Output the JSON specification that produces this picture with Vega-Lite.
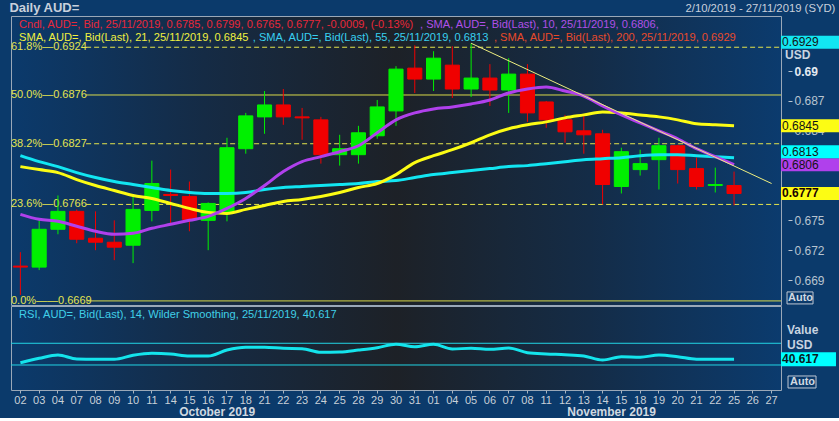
{
  "$schema": "https://vega.github.io/schema/vega-lite/v6.json",
  "background": "#0b3a6b",
  "padding": {"left": 8, "top": 0, "right": 0, "bottom": 0},
  "config": {"font": "Liberation Sans"},
  "bounds": "flush",
  "spacing": 1,
  "datasets": {
    "candles": [
      {"date":"2019-10-02","open":0.6704,"high":0.6718,"low":0.6675,"close":0.6703},
      {"date":"2019-10-03","open":0.6703,"high":0.6752,"low":0.6700,"close":0.6741},
      {"date":"2019-10-04","open":0.6741,"high":0.6775,"low":0.6736,"close":0.6759},
      {"date":"2019-10-07","open":0.6759,"high":0.6761,"low":0.6727,"close":0.6731},
      {"date":"2019-10-08","open":0.6732,"high":0.6759,"low":0.6720,"close":0.6728},
      {"date":"2019-10-09","open":0.6728,"high":0.6750,"low":0.6710,"close":0.6723},
      {"date":"2019-10-10","open":0.6725,"high":0.6774,"low":0.6707,"close":0.6761},
      {"date":"2019-10-11","open":0.6760,"high":0.6810,"low":0.6749,"close":0.6787},
      {"date":"2019-10-14","open":0.6776,"high":0.6801,"low":0.6747,"close":0.6775},
      {"date":"2019-10-15","open":0.6774,"high":0.6789,"low":0.6739,"close":0.6751},
      {"date":"2019-10-16","open":0.6750,"high":0.6768,"low":0.6720,"close":0.6767},
      {"date":"2019-10-17","open":0.6759,"high":0.6833,"low":0.6749,"close":0.6823},
      {"date":"2019-10-18","open":0.6822,"high":0.6858,"low":0.6817,"close":0.6855},
      {"date":"2019-10-21","open":0.6854,"high":0.6880,"low":0.6837,"close":0.6866},
      {"date":"2019-10-22","open":0.6866,"high":0.6882,"low":0.6846,"close":0.6854},
      {"date":"2019-10-23","open":0.6854,"high":0.6863,"low":0.6831,"close":0.6853},
      {"date":"2019-10-24","open":0.6851,"high":0.6854,"low":0.6807,"close":0.6816},
      {"date":"2019-10-25","open":0.6816,"high":0.6836,"low":0.6805,"close":0.6822},
      {"date":"2019-10-28","open":0.6816,"high":0.6845,"low":0.6807,"close":0.6838},
      {"date":"2019-10-29","open":0.6835,"high":0.6871,"low":0.6832,"close":0.6864},
      {"date":"2019-10-30","open":0.6860,"high":0.6905,"low":0.6845,"close":0.6902},
      {"date":"2019-10-31","open":0.6903,"high":0.6926,"low":0.6878,"close":0.6892},
      {"date":"2019-11-01","open":0.6892,"high":0.6920,"low":0.6880,"close":0.6913},
      {"date":"2019-11-04","open":0.6906,"high":0.6925,"low":0.6873,"close":0.6882},
      {"date":"2019-11-05","open":0.6882,"high":0.6928,"low":0.6874,"close":0.6893},
      {"date":"2019-11-06","open":0.6893,"high":0.6907,"low":0.6865,"close":0.6881},
      {"date":"2019-11-07","open":0.6881,"high":0.6913,"low":0.6858,"close":0.6897},
      {"date":"2019-11-08","open":0.6897,"high":0.6907,"low":0.6849,"close":0.6858},
      {"date":"2019-11-11","open":0.6869,"high":0.6870,"low":0.6843,"close":0.6851},
      {"date":"2019-11-12","open":0.6851,"high":0.6856,"low":0.6828,"close":0.6839},
      {"date":"2019-11-13","open":0.6840,"high":0.6855,"low":0.6817,"close":0.6836},
      {"date":"2019-11-14","open":0.6837,"high":0.6841,"low":0.6766,"close":0.6786},
      {"date":"2019-11-15","open":0.6784,"high":0.6823,"low":0.6777,"close":0.6819},
      {"date":"2019-11-18","open":0.6801,"high":0.6821,"low":0.6795,"close":0.6807},
      {"date":"2019-11-19","open":0.6811,"high":0.6833,"low":0.6781,"close":0.6825},
      {"date":"2019-11-20","open":0.6825,"high":0.6826,"low":0.6787,"close":0.6801},
      {"date":"2019-11-21","open":0.6802,"high":0.6813,"low":0.6781,"close":0.6784},
      {"date":"2019-11-22","open":0.6785,"high":0.6803,"low":0.6778,"close":0.6786},
      {"date":"2019-11-25","open":0.6785,"high":0.6799,"low":0.6765,"close":0.6777}
    ],
    "ind": [
      {"date":"2019-10-02","SMA10":0.6756,"SMA21":0.6804,"SMA55":0.6815,"RSI":34.2},
      {"date":"2019-10-03","SMA10":0.6751,"SMA21":0.6801,"SMA55":0.6809,"RSI":42.3},
      {"date":"2019-10-04","SMA10":0.6749,"SMA21":0.6798,"SMA55":0.6804,"RSI":48.4},
      {"date":"2019-10-07","SMA10":0.6744,"SMA21":0.6791,"SMA55":0.6798,"RSI":41.1},
      {"date":"2019-10-08","SMA10":0.6739,"SMA21":0.6785,"SMA55":0.6793,"RSI":40.5},
      {"date":"2019-10-09","SMA10":0.6736,"SMA21":0.6780,"SMA55":0.6789,"RSI":40.5},
      {"date":"2019-10-10","SMA10":0.6737,"SMA21":0.6775,"SMA55":0.6786,"RSI":47.9},
      {"date":"2019-10-11","SMA10":0.6742,"SMA21":0.6772,"SMA55":0.6783,"RSI":51.6},
      {"date":"2019-10-14","SMA10":0.6746,"SMA21":0.6767,"SMA55":0.6780,"RSI":50.3},
      {"date":"2019-10-15","SMA10":0.6750,"SMA21":0.6762,"SMA55":0.6778,"RSI":46.6},
      {"date":"2019-10-16","SMA10":0.6754,"SMA21":0.6758,"SMA55":0.6777,"RSI":46.6},
      {"date":"2019-10-17","SMA10":0.6762,"SMA21":0.6757,"SMA55":0.6777,"RSI":57.6},
      {"date":"2019-10-18","SMA10":0.6772,"SMA21":0.6761,"SMA55":0.6778,"RSI":62.6},
      {"date":"2019-10-21","SMA10":0.6785,"SMA21":0.6765,"SMA55":0.6781,"RSI":62.6},
      {"date":"2019-10-22","SMA10":0.6799,"SMA21":0.6769,"SMA55":0.6783,"RSI":60.8},
      {"date":"2019-10-23","SMA10":0.6809,"SMA21":0.6771,"SMA55":0.6784,"RSI":60.0},
      {"date":"2019-10-24","SMA10":0.6814,"SMA21":0.6774,"SMA55":0.6785,"RSI":53.4},
      {"date":"2019-10-25","SMA10":0.6819,"SMA21":0.6778,"SMA55":0.6786,"RSI":54.0},
      {"date":"2019-10-28","SMA10":0.6825,"SMA21":0.6783,"SMA55":0.6787,"RSI":57.6},
      {"date":"2019-10-29","SMA10":0.6838,"SMA21":0.6787,"SMA55":0.6789,"RSI":61.9},
      {"date":"2019-10-30","SMA10":0.6851,"SMA21":0.6796,"SMA55":0.6790,"RSI":68.2},
      {"date":"2019-10-31","SMA10":0.6858,"SMA21":0.6808,"SMA55":0.6793,"RSI":63.7},
      {"date":"2019-11-01","SMA10":0.6862,"SMA21":0.6815,"SMA55":0.6796,"RSI":68.2},
      {"date":"2019-11-04","SMA10":0.6864,"SMA21":0.6821,"SMA55":0.6798,"RSI":59.5},
      {"date":"2019-11-05","SMA10":0.6867,"SMA21":0.6828,"SMA55":0.6800,"RSI":60.8},
      {"date":"2019-11-06","SMA10":0.6871,"SMA21":0.6836,"SMA55":0.6802,"RSI":58.9},
      {"date":"2019-11-07","SMA10":0.6878,"SMA21":0.6842,"SMA55":0.6804,"RSI":61.3},
      {"date":"2019-11-08","SMA10":0.6882,"SMA21":0.6846,"SMA55":0.6805,"RSI":52.7},
      {"date":"2019-11-11","SMA10":0.6884,"SMA21":0.6849,"SMA55":0.6807,"RSI":50.3},
      {"date":"2019-11-12","SMA10":0.6880,"SMA21":0.6853,"SMA55":0.6809,"RSI":49.0},
      {"date":"2019-11-13","SMA10":0.6875,"SMA21":0.6856,"SMA55":0.6811,"RSI":46.6},
      {"date":"2019-11-14","SMA10":0.6865,"SMA21":0.6859,"SMA55":0.6812,"RSI":39.2},
      {"date":"2019-11-15","SMA10":0.6856,"SMA21":0.6858,"SMA55":0.6813,"RSI":45.3},
      {"date":"2019-11-18","SMA10":0.6848,"SMA21":0.6856,"SMA55":0.6815,"RSI":44.2},
      {"date":"2019-11-19","SMA10":0.6840,"SMA21":0.6854,"SMA55":0.6816,"RSI":48.4},
      {"date":"2019-11-20","SMA10":0.6832,"SMA21":0.6851,"SMA55":0.6816,"RSI":45.3},
      {"date":"2019-11-21","SMA10":0.6822,"SMA21":0.6847,"SMA55":0.6815,"RSI":40.5},
      {"date":"2019-11-22","SMA10":0.6814,"SMA21":0.6846,"SMA55":0.6814,"RSI":40.5},
      {"date":"2019-11-25","SMA10":0.6806,"SMA21":0.6845,"SMA55":0.6813,"RSI":40.617}
    ],
    "trend": [
      {"date":"2019-11-05","value":0.6928},
      {"date":"2019-11-27","value":0.6787}
    ],
    "fib": [
      {"level":0.6924,"label":"61.8%—0.6924","kind":"dashed"},
      {"level":0.6876,"label":"50.0%—0.6876","kind":"solid"},
      {"level":0.6827,"label":"38.2%—0.6827","kind":"dashed"},
      {"level":0.6766,"label":"23.6%—0.6766","kind":"dashed"},
      {"level":0.6669,"label":"0.0%——0.6669","kind":"solid"}
    ],
    "legend": [
      {"series":"Cndl","label":"Cndl, AUD=, Bid, 25/11/2019, 0.6785, 0.6799, 0.6765, 0.6777, -0.0009, (-0.13%)"},
      {"series":"SMA10","label":", SMA, AUD=, Bid(Last),  10, 25/11/2019, 0.6806,"},
      {"series":"SMA21","label":"SMA, AUD=, Bid(Last),  21, 25/11/2019, 0.6845"},
      {"series":"SMA55","label":", SMA, AUD=, Bid(Last),  55, 25/11/2019, 0.6813"},
      {"series":"SMA200","label":", SMA, AUD=, Bid(Last),  200, 25/11/2019, 0.6929"},
      {"series":"RSI","label":"RSI, AUD=, Bid(Last),  14, Wilder Smoothing, 25/11/2019, 40.617"}
    ],
    "last": [
      {"series":"SMA200","value":0.6929},
      {"series":"SMA21","value":0.6845},
      {"series":"SMA55","value":0.6813},
      {"series":"SMA10","value":0.6806},
      {"series":"Cndl","value":0.6777}
    ],
    "rsiLevels": [{"level":70},{"level":30}],
    "ui": [{"key":"auto","label":"Auto"},{"key":"usd","label":"USD"},{"key":"value","label":"Value"}]
  },
  "vconcat": [
    {
      "width": 770,
      "height": 289,
      "view": {"fill": {"gradient":"linear","x1":0,"y1":0,"x2":1,"y2":0,"stops":[{"offset":0,"color":"#0b3a6c"},{"offset":0.25,"color":"#152b45"},{"offset":0.5,"color":"#1d2127"},{"offset":0.75,"color":"#142c47"},{"offset":1,"color":"#0b3b6e"}]}, "stroke": "#9aa8b8", "strokeWidth": 1},
      "resolve": {"scale": {"x": "independent"}, "axis": {"y": "independent"}},
      "layer": [
        {
          "data": {"name": "fib"},
          "mark": {"type": "rule", "color": "#e4e44c", "strokeWidth": 1},
          "encoding": {
            "x": {"datum": "2019-10-08", "type": "ordinal", "bandPosition": 0, "scale": {"type":"band","paddingInner":0,"paddingOuter":0,"domain":["2019-10-02","2019-10-03","2019-10-04","2019-10-07","2019-10-08","2019-10-09","2019-10-10","2019-10-11","2019-10-14","2019-10-15","2019-10-16","2019-10-17","2019-10-18","2019-10-21","2019-10-22","2019-10-23","2019-10-24","2019-10-25","2019-10-28","2019-10-29","2019-10-30","2019-10-31","2019-11-01","2019-11-04","2019-11-05","2019-11-06","2019-11-07","2019-11-08","2019-11-11","2019-11-12","2019-11-13","2019-11-14","2019-11-15","2019-11-18","2019-11-19","2019-11-20","2019-11-21","2019-11-22","2019-11-25","2019-11-26","2019-11-27"]}, "axis": null},
            "x2": {"value": "width"},
            "y": {"field": "level", "type": "quantitative", "scale": {"domain": [0.66649, 0.69554], "zero": false, "nice": false},
              "axis": {"orient": "right", "values": [0.669,0.672,0.675,0.684,0.687,0.69], "format": ".3~f", "grid": false, "domain": false,
                "labelColor": {"condition": {"test": "datum.value == 0.69", "value": "#e4eaf2"}, "value": "#b8c4d0"},
                "labelFontWeight": {"condition": {"test": "datum.value == 0.69", "value": "bold"}, "value": "normal"},
                "labelFontSize": 12, "labelPadding": 2, "tickSize": 11, "tickColor": "#b8c4d0", "tickDash": [0, 7, 4, 20], "title": null}},
            "strokeDash": {"field": "kind", "type": "nominal", "scale": {"domain": ["solid","dashed"], "range": [[1,0],[5,3]]}, "legend": null}
          }
        },
        {
          "data": {"name": "fib"},
          "mark": {"type": "text", "align": "left", "baseline": "middle", "fontSize": 11, "color": "#e4e450"},
          "encoding": {
            "x": {"datum": "2019-10-02", "type": "ordinal", "bandPosition": 0, "scale": {"type":"band","paddingInner":0,"paddingOuter":0,"domain":["2019-10-02","2019-10-03","2019-10-04","2019-10-07","2019-10-08","2019-10-09","2019-10-10","2019-10-11","2019-10-14","2019-10-15","2019-10-16","2019-10-17","2019-10-18","2019-10-21","2019-10-22","2019-10-23","2019-10-24","2019-10-25","2019-10-28","2019-10-29","2019-10-30","2019-10-31","2019-11-01","2019-11-04","2019-11-05","2019-11-06","2019-11-07","2019-11-08","2019-11-11","2019-11-12","2019-11-13","2019-11-14","2019-11-15","2019-11-18","2019-11-19","2019-11-20","2019-11-21","2019-11-22","2019-11-25","2019-11-26","2019-11-27"]}, "axis": null},
            "y": {"field": "level", "type": "quantitative", "scale": {"domain": [0.66649, 0.69554], "zero": false, "nice": false}, "axis": null},
            "text": {"field": "label", "type": "nominal"}
          }
        },
        {
          "data": {"name": "candles"},
          "mark": {"type": "rule", "strokeWidth": 1},
          "encoding": {
            "x": {"field": "date", "type": "ordinal", "scale": {"type":"band","paddingInner":0,"paddingOuter":0,"domain":["2019-10-02","2019-10-03","2019-10-04","2019-10-07","2019-10-08","2019-10-09","2019-10-10","2019-10-11","2019-10-14","2019-10-15","2019-10-16","2019-10-17","2019-10-18","2019-10-21","2019-10-22","2019-10-23","2019-10-24","2019-10-25","2019-10-28","2019-10-29","2019-10-30","2019-10-31","2019-11-01","2019-11-04","2019-11-05","2019-11-06","2019-11-07","2019-11-08","2019-11-11","2019-11-12","2019-11-13","2019-11-14","2019-11-15","2019-11-18","2019-11-19","2019-11-20","2019-11-21","2019-11-22","2019-11-25","2019-11-26","2019-11-27"]},
              "axis": {"orient": "top", "values": ["2019-10-02","2019-11-21"], "labelOffset": -11, "labelExpr": "datum.value == '2019-10-02' ? 'Daily AUD=' : '2/10/2019 - 27/11/2019 (SYD)'", "ticks": false, "domain": false, "grid": false, "labelPadding": 5, "labelBaseline": "alphabetic", "labelAlign": "left", "labelAngle": 0, "labelOverlap": false, "labelBound": false, "labelColor": "#c8d0dc", "title": null,
                "labelFontWeight": {"condition": {"test": "datum.value == '2019-10-02'", "value": "bold"}, "value": "normal"},
                "labelFontSize": {"condition": {"test": "datum.value == '2019-10-02'", "value": 13}, "value": 11.3}
              }
            },
            "y": {"field": "low", "type": "quantitative", "scale": {"domain": [0.66649, 0.69554], "zero": false, "nice": false}, "axis": null},
            "y2": {"field": "high"},
            "color": {"condition": {"test": "datum.close >= datum.open", "value": "#00f000"}, "value": "#f00000"}
          }
        },
        {
          "data": {"name": "candles"},
          "mark": {"type": "bar", "width": {"band": 0.75}, "strokeWidth": 1},
          "encoding": {
            "x": {"field": "date", "type": "ordinal", "scale": {"type":"band","paddingInner":0,"paddingOuter":0,"domain":["2019-10-02","2019-10-03","2019-10-04","2019-10-07","2019-10-08","2019-10-09","2019-10-10","2019-10-11","2019-10-14","2019-10-15","2019-10-16","2019-10-17","2019-10-18","2019-10-21","2019-10-22","2019-10-23","2019-10-24","2019-10-25","2019-10-28","2019-10-29","2019-10-30","2019-10-31","2019-11-01","2019-11-04","2019-11-05","2019-11-06","2019-11-07","2019-11-08","2019-11-11","2019-11-12","2019-11-13","2019-11-14","2019-11-15","2019-11-18","2019-11-19","2019-11-20","2019-11-21","2019-11-22","2019-11-25","2019-11-26","2019-11-27"]}, "axis": null},
            "y": {"field": "open", "type": "quantitative", "scale": {"domain": [0.66649, 0.69554], "zero": false, "nice": false}, "axis": null},
            "y2": {"field": "close"},
            "color": {"condition": {"test": "datum.close >= datum.open", "value": "#00f000"}, "value": "#f00000"},
            "stroke": {"condition": {"test": "datum.close >= datum.open", "value": "#00f000"}, "value": "#f00000"}
          }
        },
        {
          "data": {"name": "ind"},
          "transform": [{"fold": ["SMA55","SMA21","SMA10"], "as": ["series","value"]}],
          "mark": {"type": "line", "strokeWidth": 3, "interpolate": "monotone"},
          "encoding": {
            "x": {"field": "date", "type": "ordinal", "scale": {"type":"band","paddingInner":0,"paddingOuter":0,"domain":["2019-10-02","2019-10-03","2019-10-04","2019-10-07","2019-10-08","2019-10-09","2019-10-10","2019-10-11","2019-10-14","2019-10-15","2019-10-16","2019-10-17","2019-10-18","2019-10-21","2019-10-22","2019-10-23","2019-10-24","2019-10-25","2019-10-28","2019-10-29","2019-10-30","2019-10-31","2019-11-01","2019-11-04","2019-11-05","2019-11-06","2019-11-07","2019-11-08","2019-11-11","2019-11-12","2019-11-13","2019-11-14","2019-11-15","2019-11-18","2019-11-19","2019-11-20","2019-11-21","2019-11-22","2019-11-25","2019-11-26","2019-11-27"]}, "axis": null},
            "y": {"field": "value", "type": "quantitative", "scale": {"domain": [0.66649, 0.69554], "zero": false, "nice": false}, "axis": null},
            "color": {"field": "series", "type": "nominal", "scale": {"domain": ["SMA55","SMA21","SMA10"], "range": ["#12e6f2","#fcfc14","#b040ec"]}, "legend": null}
          }
        },
        {
          "data": {"name": "trend"},
          "mark": {"type": "line", "strokeWidth": 1, "color": "#eeee80"},
          "encoding": {
            "x": {"field": "date", "type": "ordinal", "scale": {"type":"band","paddingInner":0,"paddingOuter":0,"domain":["2019-10-02","2019-10-03","2019-10-04","2019-10-07","2019-10-08","2019-10-09","2019-10-10","2019-10-11","2019-10-14","2019-10-15","2019-10-16","2019-10-17","2019-10-18","2019-10-21","2019-10-22","2019-10-23","2019-10-24","2019-10-25","2019-10-28","2019-10-29","2019-10-30","2019-10-31","2019-11-01","2019-11-04","2019-11-05","2019-11-06","2019-11-07","2019-11-08","2019-11-11","2019-11-12","2019-11-13","2019-11-14","2019-11-15","2019-11-18","2019-11-19","2019-11-20","2019-11-21","2019-11-22","2019-11-25","2019-11-26","2019-11-27"]}, "axis": null},
            "y": {"field": "value", "type": "quantitative", "scale": {"domain": [0.66649, 0.69554], "zero": false, "nice": false}, "axis": null}
          }
        },
        {
          "data": {"name": "legend"},
          "transform": [{"filter": "datum.series == 'Cndl'"}],
          "mark": {"type": "text", "align": "left", "baseline": "middle", "fontSize": 11.1, "color": "#e8283a", "dx": -1.4},
          "encoding": {
            "x": {"datum": "2019-10-02", "type": "ordinal", "scale": {"type":"band","paddingInner":0,"paddingOuter":0,"domain":["2019-10-02","2019-10-03","2019-10-04","2019-10-07","2019-10-08","2019-10-09","2019-10-10","2019-10-11","2019-10-14","2019-10-15","2019-10-16","2019-10-17","2019-10-18","2019-10-21","2019-10-22","2019-10-23","2019-10-24","2019-10-25","2019-10-28","2019-10-29","2019-10-30","2019-10-31","2019-11-01","2019-11-04","2019-11-05","2019-11-06","2019-11-07","2019-11-08","2019-11-11","2019-11-12","2019-11-13","2019-11-14","2019-11-15","2019-11-18","2019-11-19","2019-11-20","2019-11-21","2019-11-22","2019-11-25","2019-11-26","2019-11-27"]}, "axis": null},
            "y": {"datum": 0.69464, "type": "quantitative", "scale": {"domain": [0.66649, 0.69554], "zero": false, "nice": false}, "axis": null},
            "text": {"field": "label", "type": "nominal"}
          }
        },
        {
          "data": {"name": "legend"},
          "transform": [{"filter": "datum.series == 'SMA10'"}],
          "mark": {"type": "text", "align": "left", "baseline": "middle", "fontSize": 11.1, "color": "#b050e8", "dx": 5.2},
          "encoding": {
            "x": {"datum": "2019-10-31", "type": "ordinal", "scale": {"type":"band","paddingInner":0,"paddingOuter":0,"domain":["2019-10-02","2019-10-03","2019-10-04","2019-10-07","2019-10-08","2019-10-09","2019-10-10","2019-10-11","2019-10-14","2019-10-15","2019-10-16","2019-10-17","2019-10-18","2019-10-21","2019-10-22","2019-10-23","2019-10-24","2019-10-25","2019-10-28","2019-10-29","2019-10-30","2019-10-31","2019-11-01","2019-11-04","2019-11-05","2019-11-06","2019-11-07","2019-11-08","2019-11-11","2019-11-12","2019-11-13","2019-11-14","2019-11-15","2019-11-18","2019-11-19","2019-11-20","2019-11-21","2019-11-22","2019-11-25","2019-11-26","2019-11-27"]}, "axis": null},
            "y": {"datum": 0.69464, "type": "quantitative", "scale": {"domain": [0.66649, 0.69554], "zero": false, "nice": false}, "axis": null},
            "text": {"field": "label", "type": "nominal"}
          }
        },
        {
          "data": {"name": "legend"},
          "transform": [{"filter": "datum.series == 'SMA21'"}],
          "mark": {"type": "text", "align": "left", "baseline": "middle", "fontSize": 11.1, "color": "#f0f040", "dx": -1.4},
          "encoding": {
            "x": {"datum": "2019-10-02", "type": "ordinal", "scale": {"type":"band","paddingInner":0,"paddingOuter":0,"domain":["2019-10-02","2019-10-03","2019-10-04","2019-10-07","2019-10-08","2019-10-09","2019-10-10","2019-10-11","2019-10-14","2019-10-15","2019-10-16","2019-10-17","2019-10-18","2019-10-21","2019-10-22","2019-10-23","2019-10-24","2019-10-25","2019-10-28","2019-10-29","2019-10-30","2019-10-31","2019-11-01","2019-11-04","2019-11-05","2019-11-06","2019-11-07","2019-11-08","2019-11-11","2019-11-12","2019-11-13","2019-11-14","2019-11-15","2019-11-18","2019-11-19","2019-11-20","2019-11-21","2019-11-22","2019-11-25","2019-11-26","2019-11-27"]}, "axis": null},
            "y": {"datum": 0.6933, "type": "quantitative", "scale": {"domain": [0.66649, 0.69554], "zero": false, "nice": false}, "axis": null},
            "text": {"field": "label", "type": "nominal"}
          }
        },
        {
          "data": {"name": "legend"},
          "transform": [{"filter": "datum.series == 'SMA55'"}],
          "mark": {"type": "text", "align": "left", "baseline": "middle", "fontSize": 11.1, "color": "#38d0f0", "dx": 7},
          "encoding": {
            "x": {"datum": "2019-10-18", "type": "ordinal", "scale": {"type":"band","paddingInner":0,"paddingOuter":0,"domain":["2019-10-02","2019-10-03","2019-10-04","2019-10-07","2019-10-08","2019-10-09","2019-10-10","2019-10-11","2019-10-14","2019-10-15","2019-10-16","2019-10-17","2019-10-18","2019-10-21","2019-10-22","2019-10-23","2019-10-24","2019-10-25","2019-10-28","2019-10-29","2019-10-30","2019-10-31","2019-11-01","2019-11-04","2019-11-05","2019-11-06","2019-11-07","2019-11-08","2019-11-11","2019-11-12","2019-11-13","2019-11-14","2019-11-15","2019-11-18","2019-11-19","2019-11-20","2019-11-21","2019-11-22","2019-11-25","2019-11-26","2019-11-27"]}, "axis": null},
            "y": {"datum": 0.6933, "type": "quantitative", "scale": {"domain": [0.66649, 0.69554], "zero": false, "nice": false}, "axis": null},
            "text": {"field": "label", "type": "nominal"}
          }
        },
        {
          "data": {"name": "legend"},
          "transform": [{"filter": "datum.series == 'SMA200'"}],
          "mark": {"type": "text", "align": "left", "baseline": "middle", "fontSize": 11.1, "color": "#e84a2a", "dx": 4},
          "encoding": {
            "x": {"datum": "2019-11-06", "type": "ordinal", "scale": {"type":"band","paddingInner":0,"paddingOuter":0,"domain":["2019-10-02","2019-10-03","2019-10-04","2019-10-07","2019-10-08","2019-10-09","2019-10-10","2019-10-11","2019-10-14","2019-10-15","2019-10-16","2019-10-17","2019-10-18","2019-10-21","2019-10-22","2019-10-23","2019-10-24","2019-10-25","2019-10-28","2019-10-29","2019-10-30","2019-10-31","2019-11-01","2019-11-04","2019-11-05","2019-11-06","2019-11-07","2019-11-08","2019-11-11","2019-11-12","2019-11-13","2019-11-14","2019-11-15","2019-11-18","2019-11-19","2019-11-20","2019-11-21","2019-11-22","2019-11-25","2019-11-26","2019-11-27"]}, "axis": null},
            "y": {"datum": 0.6933, "type": "quantitative", "scale": {"domain": [0.66649, 0.69554], "zero": false, "nice": false}, "axis": null},
            "text": {"field": "label", "type": "nominal"}
          }
        },
        {
          "data": {"name": "last"},
          "transform": [{"filter": "datum.series != 'SMA55'"}],
          "mark": {"type": "tick", "orient": "horizontal", "size": 59, "thickness": 13, "opacity": 1},
          "encoding": {
            "x": {"datum": 1.0383, "type": "quantitative", "scale": {"type": "linear", "domain": [0, 1], "zero": false, "nice": false}, "axis": null},
            "y": {"field": "value", "type": "quantitative", "scale": {"domain": [0.66649, 0.69554], "zero": false, "nice": false}, "axis": null},
            "color": {"field": "series", "type": "nominal", "scale": {"domain": ["SMA200","SMA21","SMA55","SMA10","Cndl"], "range": ["#f43c0c","#ffff00","#00ffff","#b040f0","#f00000"]}, "legend": null}
          }
        },
        {
          "data": {"name": "last"},
          "transform": [{"filter": "datum.series == 'SMA55'"}],
          "mark": {"type": "tick", "orient": "horizontal", "size": 59, "thickness": 13, "opacity": 1, "yOffset": -6, "color": "#00ffff"},
          "encoding": {
            "x": {"datum": 1.0383, "type": "quantitative", "scale": {"type": "linear", "domain": [0, 1], "zero": false, "nice": false}, "axis": null},
            "y": {"field": "value", "type": "quantitative", "scale": {"domain": [0.66649, 0.69554], "zero": false, "nice": false}, "axis": null}
          }
        },
        {
          "data": {"name": "last"},
          "transform": [{"filter": "datum.series == 'SMA200' || datum.series == 'SMA21' || datum.series == 'SMA10'"}],
          "mark": {"type": "text", "align": "left", "baseline": "middle", "fontSize": 12, "color": "#141414"},
          "encoding": {
            "x": {"datum": 1.0013, "type": "quantitative", "scale": {"type": "linear", "domain": [0, 1], "zero": false, "nice": false}, "axis": null},
            "y": {"field": "value", "type": "quantitative", "scale": {"domain": [0.66649, 0.69554], "zero": false, "nice": false}, "axis": null},
            "text": {"field": "value", "type": "nominal"}
          }
        },
        {
          "data": {"name": "last"},
          "transform": [{"filter": "datum.series == 'SMA55'"}],
          "mark": {"type": "text", "align": "left", "baseline": "middle", "fontSize": 12, "color": "#141414", "yOffset": -6},
          "encoding": {
            "x": {"datum": 1.0013, "type": "quantitative", "scale": {"type": "linear", "domain": [0, 1], "zero": false, "nice": false}, "axis": null},
            "y": {"field": "value", "type": "quantitative", "scale": {"domain": [0.66649, 0.69554], "zero": false, "nice": false}, "axis": null},
            "text": {"field": "value", "type": "nominal"}
          }
        },
        {
          "data": {"name": "last"},
          "transform": [{"filter": "datum.series == 'Cndl'"}],
          "mark": {"type": "text", "align": "left", "baseline": "middle", "fontSize": 12, "fontWeight": "bold", "color": "#1a0000"},
          "encoding": {
            "x": {"datum": 1.0013, "type": "quantitative", "scale": {"type": "linear", "domain": [0, 1], "zero": false, "nice": false}, "axis": null},
            "y": {"field": "value", "type": "quantitative", "scale": {"domain": [0.66649, 0.69554], "zero": false, "nice": false}, "axis": null},
            "text": {"field": "value", "type": "nominal"}
          }
        },
        {
          "data": {"name": "ui"},
          "transform": [{"filter": "datum.key == 'usd'"}],
          "mark": {"type": "text", "align": "left", "baseline": "middle", "fontSize": 12, "fontWeight": "bold", "color": "#c8d4e0"},
          "encoding": {
            "x": {"datum": 1.0052, "type": "quantitative", "scale": {"type": "linear", "domain": [0, 1], "zero": false, "nice": false}, "axis": null},
            "y": {"datum": 0.69162, "type": "quantitative", "scale": {"domain": [0.66649, 0.69554], "zero": false, "nice": false}, "axis": null},
            "text": {"field": "label", "type": "nominal"}
          }
        },
        {
          "data": {"name": "ui"},
          "transform": [{"filter": "datum.key == 'auto'"}],
          "mark": {"type": "tick", "orient": "horizontal", "size": 26, "thickness": 12, "filled": false, "color": "#c0c8d4", "strokeWidth": 1, "opacity": 1},
          "encoding": {
            "x": {"datum": 1.0247, "type": "quantitative", "scale": {"type": "linear", "domain": [0, 1], "zero": false, "nice": false}, "axis": null},
            "y": {"datum": 0.6672, "type": "quantitative", "scale": {"domain": [0.66649, 0.69554], "zero": false, "nice": false}, "axis": null}
          }
        },
        {
          "data": {"name": "ui"},
          "transform": [{"filter": "datum.key == 'auto'"}],
          "mark": {"type": "text", "align": "left", "baseline": "middle", "fontSize": 11, "fontWeight": "bold", "color": "#d0d8e0"},
          "encoding": {
            "x": {"datum": 1.0091, "type": "quantitative", "scale": {"type": "linear", "domain": [0, 1], "zero": false, "nice": false}, "axis": null},
            "y": {"datum": 0.6672, "type": "quantitative", "scale": {"domain": [0.66649, 0.69554], "zero": false, "nice": false}, "axis": null},
            "text": {"field": "label", "type": "nominal"}
          }
        }
      ]
    },
    {
      "width": 770,
      "height": 84,
      "view": {"fill": {"gradient":"linear","x1":0,"y1":0,"x2":1,"y2":0,"stops":[{"offset":0,"color":"#0b3a6c"},{"offset":0.25,"color":"#152b45"},{"offset":0.5,"color":"#1d2127"},{"offset":0.75,"color":"#142c47"},{"offset":1,"color":"#0b3b6e"}]}, "stroke": "#9aa8b8", "strokeWidth": 1},
      "resolve": {"scale": {"x": "independent"}},
      "layer": [
        {
          "data": {"name": "rsiLevels"},
          "mark": {"type": "rule", "color": "#22d4e4", "strokeWidth": 1},
          "encoding": {
            "x": {"datum": "2019-10-02", "type": "ordinal", "bandPosition": 0, "scale": {"type":"band","paddingInner":0,"paddingOuter":0,"domain":["2019-10-02","2019-10-03","2019-10-04","2019-10-07","2019-10-08","2019-10-09","2019-10-10","2019-10-11","2019-10-14","2019-10-15","2019-10-16","2019-10-17","2019-10-18","2019-10-21","2019-10-22","2019-10-23","2019-10-24","2019-10-25","2019-10-28","2019-10-29","2019-10-30","2019-10-31","2019-11-01","2019-11-04","2019-11-05","2019-11-06","2019-11-07","2019-11-08","2019-11-11","2019-11-12","2019-11-13","2019-11-14","2019-11-15","2019-11-18","2019-11-19","2019-11-20","2019-11-21","2019-11-22","2019-11-25","2019-11-26","2019-11-27"]}, "axis": null},
            "x2": {"value": "width"},
            "y": {"field": "level", "type": "quantitative", "scale": {"domain": [-16.1, 138.7], "zero": false, "nice": false}, "axis": null}
          }
        },
        {
          "data": {"name": "ind"},
          "mark": {"type": "line", "strokeWidth": 3, "color": "#14e4ec", "interpolate": "monotone"},
          "encoding": {
            "x": {"field": "date", "type": "ordinal", "scale": {"type":"band","paddingInner":0,"paddingOuter":0,"domain":["2019-10-02","2019-10-03","2019-10-04","2019-10-07","2019-10-08","2019-10-09","2019-10-10","2019-10-11","2019-10-14","2019-10-15","2019-10-16","2019-10-17","2019-10-18","2019-10-21","2019-10-22","2019-10-23","2019-10-24","2019-10-25","2019-10-28","2019-10-29","2019-10-30","2019-10-31","2019-11-01","2019-11-04","2019-11-05","2019-11-06","2019-11-07","2019-11-08","2019-11-11","2019-11-12","2019-11-13","2019-11-14","2019-11-15","2019-11-18","2019-11-19","2019-11-20","2019-11-21","2019-11-22","2019-11-25","2019-11-26","2019-11-27"]},
              "axis": {"orient": "bottom", "labelExpr": "slice(datum.value, 8)", "labelAngle": 0, "labelOverlap": false, "labelFontSize": 11, "labelColor": "#c8d0d8", "labelPadding": 1, "tickSize": 3, "tickColor": "#a8b4c0", "domain": false, "grid": false, "title": null}},
            "y": {"field": "RSI", "type": "quantitative", "scale": {"domain": [-16.1, 138.7], "zero": false, "nice": false}, "axis": null}
          }
        },
        {
          "data": {"name": "legend"},
          "transform": [{"filter": "datum.series == 'RSI'"}],
          "mark": {"type": "text", "align": "left", "baseline": "middle", "fontSize": 11.1, "color": "#40d0e8", "dx": -1.4},
          "encoding": {
            "x": {"datum": "2019-10-02", "type": "ordinal", "scale": {"type":"band","paddingInner":0,"paddingOuter":0,"domain":["2019-10-02","2019-10-03","2019-10-04","2019-10-07","2019-10-08","2019-10-09","2019-10-10","2019-10-11","2019-10-14","2019-10-15","2019-10-16","2019-10-17","2019-10-18","2019-10-21","2019-10-22","2019-10-23","2019-10-24","2019-10-25","2019-10-28","2019-10-29","2019-10-30","2019-10-31","2019-11-01","2019-11-04","2019-11-05","2019-11-06","2019-11-07","2019-11-08","2019-11-11","2019-11-12","2019-11-13","2019-11-14","2019-11-15","2019-11-18","2019-11-19","2019-11-20","2019-11-21","2019-11-22","2019-11-25","2019-11-26","2019-11-27"]}, "axis": null},
            "y": {"datum": 121.2, "type": "quantitative", "scale": {"domain": [-16.1, 138.7], "zero": false, "nice": false}, "axis": null},
            "text": {"field": "label", "type": "nominal"}
          }
        },
        {
          "data": {"name": "ind"},
          "mark": {"type": "point", "opacity": 0},
          "encoding": {
            "x": {"field": "date", "type": "ordinal",
              "scale": {"type":"band","paddingInner":0,"paddingOuter":0,"domain":["2019-10-02","2019-10-03","2019-10-04","2019-10-07","2019-10-08","2019-10-09","2019-10-10","2019-10-11","2019-10-14","2019-10-15","2019-10-16","2019-10-17","2019-10-18","2019-10-21","2019-10-22","2019-10-23","2019-10-24","2019-10-25","2019-10-28","2019-10-29","2019-10-30","2019-10-31","2019-11-01","2019-11-04","2019-11-05","2019-11-06","2019-11-07","2019-11-08","2019-11-11","2019-11-12","2019-11-13","2019-11-14","2019-11-15","2019-11-18","2019-11-19","2019-11-20","2019-11-21","2019-11-22","2019-11-25","2019-11-26","2019-11-27"]},
              "axis": {"orient": "bottom", "values": ["2019-10-16","2019-11-14"], "labelExpr": "datum.value == '2019-10-16' ? 'October 2019' : 'November 2019'", "ticks": false, "domain": false, "grid": false, "labelPadding": 16, "labelOffset": 9, "labelAngle": 0, "labelFontSize": 12, "labelFontWeight": "bold", "labelColor": "#d0d8e0", "labelOverlap": false, "title": null}
            }
          }
        },
        {
          "data": {"name": "ind"},
          "transform": [{"filter": "datum.date == '2019-11-25'"}],
          "mark": {"type": "tick", "orient": "horizontal", "size": 55, "thickness": 14, "opacity": 1, "color": "#00ffff"},
          "encoding": {
            "x": {"datum": 1.0357, "type": "quantitative", "scale": {"type": "linear", "domain": [0, 1], "zero": false, "nice": false}, "axis": null},
            "y": {"field": "RSI", "type": "quantitative", "scale": {"domain": [-16.1, 138.7], "zero": false, "nice": false}, "axis": null}
          }
        },
        {
          "data": {"name": "ind"},
          "transform": [{"filter": "datum.date == '2019-11-25'"}],
          "mark": {"type": "text", "align": "left", "baseline": "middle", "fontSize": 12, "fontWeight": "bold", "color": "#0a1a20"},
          "encoding": {
            "x": {"datum": 1.0013, "type": "quantitative", "scale": {"type": "linear", "domain": [0, 1], "zero": false, "nice": false}, "axis": null},
            "y": {"field": "RSI", "type": "quantitative", "scale": {"domain": [-16.1, 138.7], "zero": false, "nice": false}, "axis": null},
            "text": {"field": "RSI", "type": "nominal"}
          }
        },
        {
          "data": {"name": "ui"},
          "transform": [{"filter": "datum.key == 'value'"}],
          "mark": {"type": "text", "align": "left", "baseline": "middle", "fontSize": 12, "fontWeight": "bold", "color": "#c8d4e0"},
          "encoding": {
            "x": {"datum": 1.0078, "type": "quantitative", "scale": {"type": "linear", "domain": [0, 1], "zero": false, "nice": false}, "axis": null},
            "y": {"datum": 94.5, "type": "quantitative", "scale": {"domain": [-16.1, 138.7], "zero": false, "nice": false}, "axis": null},
            "text": {"field": "label", "type": "nominal"}
          }
        },
        {
          "data": {"name": "ui"},
          "transform": [{"filter": "datum.key == 'usd'"}],
          "mark": {"type": "text", "align": "left", "baseline": "middle", "fontSize": 12, "fontWeight": "bold", "color": "#c8d4e0"},
          "encoding": {
            "x": {"datum": 1.0078, "type": "quantitative", "scale": {"type": "linear", "domain": [0, 1], "zero": false, "nice": false}, "axis": null},
            "y": {"datum": 66.8, "type": "quantitative", "scale": {"domain": [-16.1, 138.7], "zero": false, "nice": false}, "axis": null},
            "text": {"field": "label", "type": "nominal"}
          }
        },
        {
          "data": {"name": "ui"},
          "transform": [{"filter": "datum.key == 'auto'"}],
          "mark": {"type": "tick", "orient": "horizontal", "size": 28, "thickness": 12, "filled": false, "color": "#c0c8d4", "strokeWidth": 1, "opacity": 1},
          "encoding": {
            "x": {"datum": 1.0273, "type": "quantitative", "scale": {"type": "linear", "domain": [0, 1], "zero": false, "nice": false}, "axis": null},
            "y": {"datum": -1.35, "type": "quantitative", "scale": {"domain": [-16.1, 138.7], "zero": false, "nice": false}, "axis": null}
          }
        },
        {
          "data": {"name": "ui"},
          "transform": [{"filter": "datum.key == 'auto'"}],
          "mark": {"type": "text", "align": "left", "baseline": "middle", "fontSize": 11, "fontWeight": "bold", "color": "#d0d8e0"},
          "encoding": {
            "x": {"datum": 1.0117, "type": "quantitative", "scale": {"type": "linear", "domain": [0, 1], "zero": false, "nice": false}, "axis": null},
            "y": {"datum": -1.35, "type": "quantitative", "scale": {"domain": [-16.1, 138.7], "zero": false, "nice": false}, "axis": null},
            "text": {"field": "label", "type": "nominal"}
          }
        }
      ]
    }
  ]
}
